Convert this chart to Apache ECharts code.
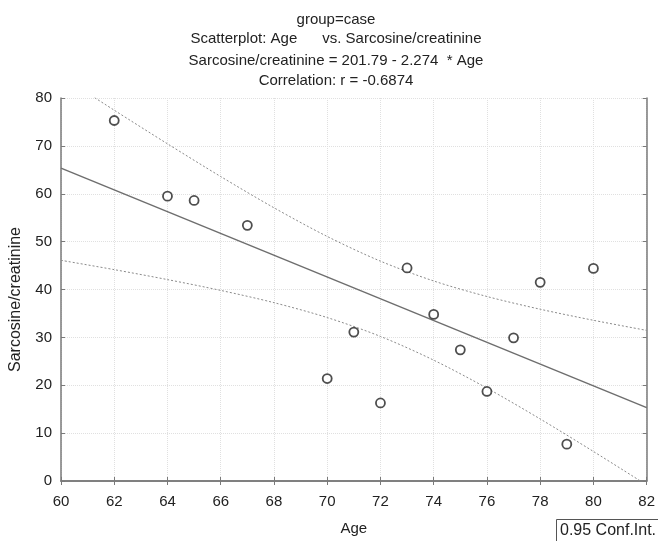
<!DOCTYPE html>
<html>
<head>
<meta charset="utf-8">
<script src="https://cdn.jsdelivr.net/npm/echarts@6/dist/echarts.min.js"></script>
<style>html,body{margin:0;padding:0;background:#fff}#c{width:658px;height:541px}</style>
</head>
<body>
<div id="c"></div>
<script>
var ages = [62, 64, 65, 67, 70, 71, 72, 73, 74, 75, 76, 77, 78, 79, 80];
var ratio = [75.3, 59.5, 58.6, 53.4, 21.4, 31.1, 16.3, 44.5, 34.8, 27.4, 18.7, 29.9, 41.5, 7.7, 44.4];
var fitX = [60, 82];
var fitY = [65.35, 15.32];
var bandX = [60, 62, 64, 66, 68, 70, 72, 74, 76, 78, 80, 82];
var upperY = [84.6, 77.45, 70.43, 63.59, 57.07, 51.08, 45.92, 41.78, 38.54, 35.88, 33.57, 31.46];
var lowerY = [46.1, 44.15, 42.07, 39.81, 37.25, 34.14, 30.20, 25.24, 19.40, 12.96, 6.17, -0.82];
var xTicks = [60, 62, 64, 66, 68, 70, 72, 74, 76, 78, 80, 82];
var yTicks = [0, 10, 20, 30, 40, 50, 60, 70, 80];
var titleLines = ['group=case', 'Scatterplot: Age      vs. Sarcosine/creatinine', 'Sarcosine/creatinine = 201.79 - 2.274  * Age', 'Correlation: r = -0.6874'];

function zip(a, b) { return a.map(function (v, i) { return [v, b[i]]; }); }

var chart = echarts.init(document.getElementById('c'), null, {renderer: 'canvas'});
var FONT = 'Liberation Sans, Arial, sans-serif';
var axisCol = '#7a7a7a';
var commonAxis = {
  axisLine: {show: true, lineStyle: {color: axisCol, width: 1.5}},
  axisTick: {show: true, inside: true, length: 4, lineStyle: {color: axisCol}},
  splitLine: {show: false}
};
var titleTops = [7, 26, 48, 68];
chart.setOption({
  animation: false,
  title: titleLines.map(function (t, i) {
    return {text: t, left: 331, top: titleTops[i], textAlign: 'center',
      textStyle: {fontFamily: FONT, fontSize: 15, fontWeight: 'normal', color: '#222'}};
  }),
  grid: {left: 61, top: 98, width: 587, height: 388, containLabel: false},
  xAxis: [
    Object.assign({}, commonAxis, {
      type: 'value', min: 60, max: 82, interval: 2, position: 'bottom',
      name: 'Age', nameLocation: 'middle', nameGap: 40,
      nameTextStyle: {fontFamily: FONT, fontSize: 15, color: '#222'},
      axisLabel: {fontFamily: FONT, fontSize: 15, color: '#222', margin: 13},
      splitLine: {show: true, lineStyle: {type: 'dotted', color: '#e0e0e0'}}
    }),
    Object.assign({}, commonAxis, {
      type: 'value', min: 60, max: 82, interval: 2, position: 'top',
      axisLabel: {show: false}
    })
  ],
  yAxis: [
    Object.assign({}, commonAxis, {
      type: 'value', min: 0, max: 80, interval: 10, position: 'left',
      name: 'Sarcosine/creatinine', nameLocation: 'middle', nameGap: 37,
      nameTextStyle: {fontFamily: FONT, fontSize: 16, color: '#222', padding: [0, 20, 0, 0]},
      axisLabel: {fontFamily: FONT, fontSize: 15, color: '#222', margin: 9},
      splitLine: {show: true, lineStyle: {type: 'dotted', color: '#e0e0e0'}}
    }),
    Object.assign({}, commonAxis, {
      type: 'value', min: 0, max: 80, interval: 10, position: 'right',
      axisLabel: {show: false}
    })
  ],
  series: [
    {type: 'line', data: zip(bandX, upperY), smooth: 0.3, showSymbol: false, clip: true,
      lineStyle: {color: '#8a8a8a', width: 1, type: [2, 2]}, z: 2},
    {type: 'line', data: zip(bandX, lowerY), smooth: 0.3, showSymbol: false, clip: true,
      lineStyle: {color: '#8a8a8a', width: 1, type: [2, 2]}, z: 2},
    {type: 'line', data: zip(fitX, fitY), showSymbol: false, clip: true,
      lineStyle: {color: '#6e6e6e', width: 1.5}, z: 3},
    {type: 'scatter', data: zip(ages, ratio), symbol: 'circle', symbolSize: 9,
      itemStyle: {color: '#fff', borderColor: '#222', borderWidth: 1.8}, z: 5}
  ],
  graphic: [
    {type: 'rect', left: 556, top: 519, shape: {width: 120, height: 40},
      style: {fill: '#fff', stroke: '#555', lineWidth: 1}},
    {type: 'text', left: 560, top: 523,
      style: {text: '0.95 Conf.Int.', font: '16px ' + FONT, fill: '#222'}}
  ]
});
</script>
</body>
</html>
